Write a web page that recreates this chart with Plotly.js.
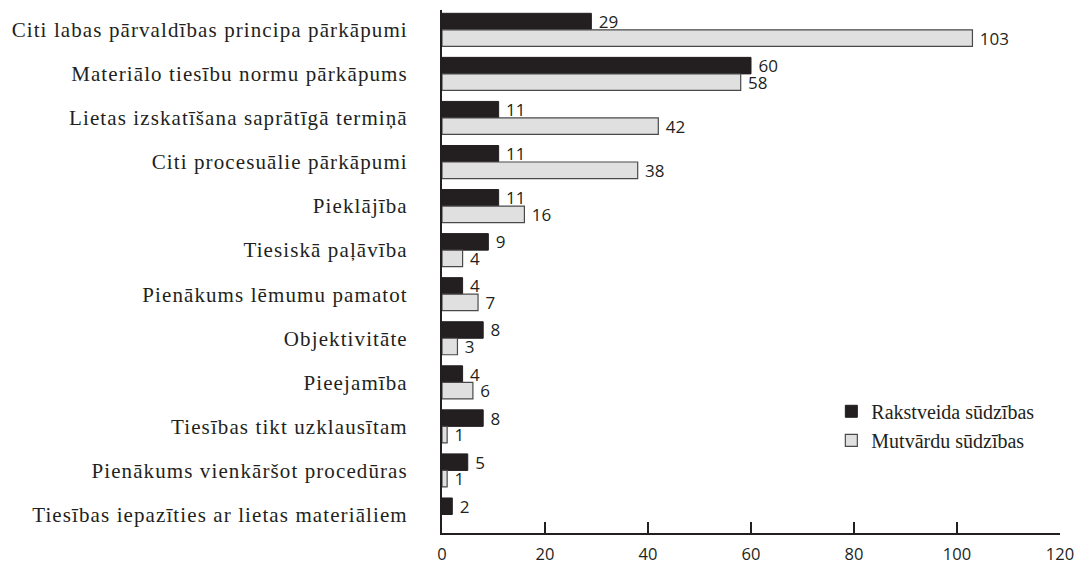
<!DOCTYPE html>
<html>
<head>
<meta charset="utf-8">
<script src="https://cdn.plot.ly/plotly-3.0.1.min.js"></script>
<style>
html,body{margin:0;padding:0;background:#fff;}
#chart{width:1085px;height:565px;}
#chart .ytick text{letter-spacing:1.1px;}
</style>
</head>
<body>
<div id="chart"></div>
<script>
const categories = [
  "Citi labas pārvaldības principa pārkāpumi",
  "Materiālo tiesību normu pārkāpums",
  "Lietas izskatīšana saprātīgā termiņā",
  "Citi procesuālie pārkāpumi",
  "Pieklājība",
  "Tiesiskā paļāvība",
  "Pienākums lēmumu pamatot",
  "Objektivitāte",
  "Pieejamība",
  "Tiesības tikt uzklausītam",
  "Pienākums vienkāršot procedūras",
  "Tiesības iepazīties ar lietas materiāliem"
];
const rakstveida = [29, 60, 11, 11, 11, 9, 4, 8, 4, 8, 5, 2];
const mutvardu = [103, 58, 42, 38, 16, 4, 7, 3, 6, 1, 1, null];
const seriesNames = ["Rakstveida sūdzības", "Mutvārdu sūdzības"];
const xTicks = [0, 20, 40, 60, 80, 100, 120];

const ink = "#231f20";
const sansFont = {family: "Open Sans, Liberation Sans, sans-serif", size: 17, color: ink};
const tickFont = {family: "Open Sans, Liberation Sans, sans-serif", size: 16.5, color: ink};
const serifFont = {family: "Liberation Serif, DejaVu Serif, serif", size: 21, color: ink};
const label = v => v == null ? "" : "\u00a0" + v;

const traces = [
  {
    type: "bar", orientation: "h", name: seriesNames[0],
    y: categories, x: rakstveida,
    text: rakstveida.map(label),
    textposition: "outside", cliponaxis: false, constraintext: "none",
    textfont: sansFont,
    marker: {color: ink, line: {color: ink, width: 1}},
    hoverinfo: "x+name"
  },
  {
    type: "bar", orientation: "h", name: seriesNames[1],
    y: categories, x: mutvardu,
    text: mutvardu.map(label),
    textposition: "outside", cliponaxis: false, constraintext: "none",
    textfont: sansFont,
    marker: {color: "#e0e0e0", line: {color: "#4a4a4a", width: 1.2}},
    hoverinfo: "x+name"
  }
];

const layout = {
  width: 1085, height: 565,
  margin: {l: 442, r: 25, t: 10, b: 32},
  paper_bgcolor: "#fff", plot_bgcolor: "#fff",
  barmode: "group", bargap: 0.25, bargroupgap: 0,
  showlegend: true,
  legend: {
    x: 0.63, y: 0.27, xanchor: "left", yanchor: "top",
    font: {family: serifFont.family, size: 20, color: ink}, bgcolor: "rgba(0,0,0,0)",
    traceorder: "normal", tracegroupgap: 0
  },
  xaxis: {
    range: [0, 120], tickvals: xTicks, ticktext: xTicks.map(String),
    showgrid: false, zeroline: false,
    showline: true, linecolor: ink, linewidth: 2,
    ticks: "inside", ticklen: 11, tickwidth: 2, tickcolor: ink,
    ticklabelstandoff: 5,
    tickfont: tickFont, fixedrange: true
  },
  yaxis: {
    type: "category",
    range: [11.42, -0.45],
    showgrid: false, zeroline: false,
    showline: true, linecolor: ink, linewidth: 2,
    ticks: "", ticklabelstandoff: 28,
    tickfont: serifFont, fixedrange: true
  }
};

Plotly.newPlot("chart", traces, layout, {displayModeBar: false, staticPlot: true});
</script>
</body>
</html>
